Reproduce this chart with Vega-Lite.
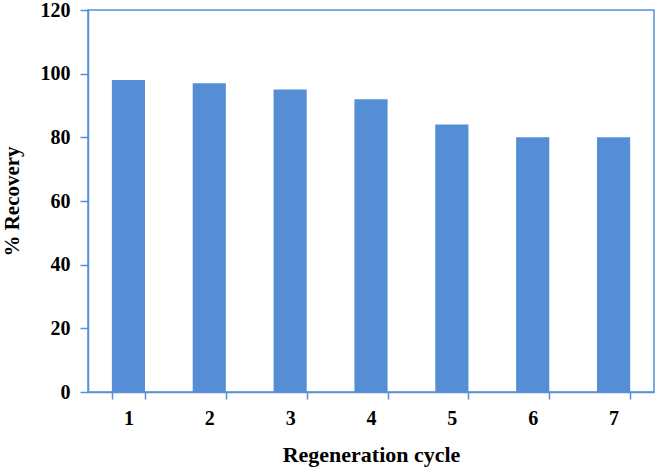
{
  "$schema": "https://vega.github.io/schema/vega-lite/v6.json",
  "width": 566,
  "height": 382,
  "autosize": "none",
  "padding": {"left": 88, "top": 10, "right": 4, "bottom": 76},
  "background": "white",
  "config": {
    "view": {"stroke": "#5B8FD6", "strokeWidth": 1.5},
    "font": "Liberation Serif"
  },
  "data": {
    "values": [
      {"cycle": "1", "recovery": 98},
      {"cycle": "2", "recovery": 97},
      {"cycle": "3", "recovery": 95},
      {"cycle": "4", "recovery": 92},
      {"cycle": "5", "recovery": 84},
      {"cycle": "6", "recovery": 80},
      {"cycle": "7", "recovery": 80}
    ]
  },
  "mark": {"type": "bar", "color": "#558ED5"},
  "encoding": {
    "x": {
      "field": "cycle",
      "type": "ordinal",
      "scale": {"paddingInner": 0.59, "paddingOuter": 0.295},
      "axis": {
        "title": "Regeneration cycle",
        "labelAngle": 0,
        "labelFont": "Liberation Serif",
        "labelFontWeight": "bold",
        "labelFontSize": 20,
        "labelColor": "black",
        "labelPadding": 9,
        "tickBand": "extent",
        "tickSize": 7,
        "tickColor": "#5B8FD6",
        "tickWidth": 1.5,
        "domainColor": "#5B8FD6",
        "domainWidth": 1.5,
        "titleFont": "Liberation Serif",
        "titleFontWeight": "bold",
        "titleFontSize": 22,
        "titleColor": "black",
        "titlePadding": 16
      }
    },
    "y": {
      "field": "recovery",
      "type": "quantitative",
      "scale": {"domain": [0, 120]},
      "axis": {
        "title": "% Recovery",
        "values": [0, 20, 40, 60, 80, 100, 120],
        "grid": false,
        "labelFont": "Liberation Serif",
        "labelFontWeight": "bold",
        "labelFontSize": 20,
        "labelColor": "black",
        "labelPadding": 10,
        "tickSize": 8,
        "tickColor": "#5B8FD6",
        "tickWidth": 1.5,
        "domainColor": "#5B8FD6",
        "domainWidth": 1.5,
        "titleFont": "Liberation Serif",
        "titleFontWeight": "bold",
        "titleFontSize": 21,
        "titleColor": "black",
        "titlePadding": 18
      }
    }
  }
}
